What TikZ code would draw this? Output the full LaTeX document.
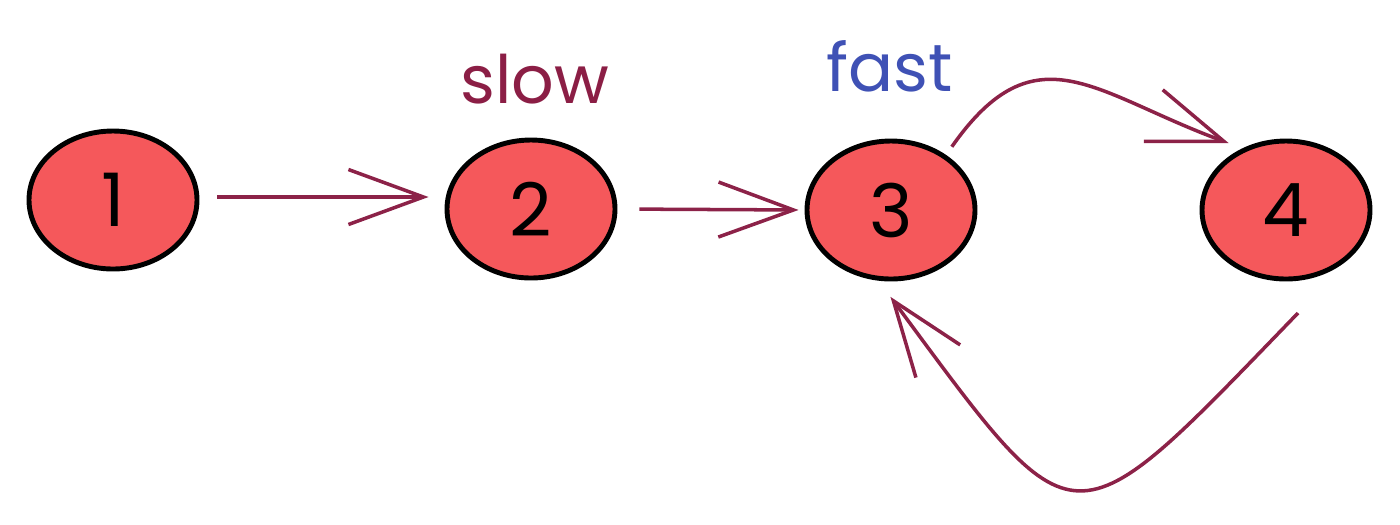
\documentclass[tikz,border=0pt]{standalone}
\usepackage{fontspec}
\setmainfont{Poppins}
\usetikzlibrary{positioning,arrows.meta,shapes.geometric}
\definecolor{nodered}{HTML}{F5585B}
\definecolor{linkred}{HTML}{8C2248}
\definecolor{slowred}{HTML}{8B1E45}
\definecolor{fastblue}{HTML}{3F51B5}

\begin{document}
\begin{tikzpicture}[
 num/.style={ellipse,draw=black,fill=nodered,line width=1.4pt,minimum width=1.68cm,minimum height=1.38cm,inner sep=0pt,font=\fontsize{21}{24}\selectfont},
 link/.style={-{Straight Barb[length=7.5mm,width=5.5mm,line width=1pt]},draw=linkred,line width=1pt},
 tag/.style={font=\fontsize{19}{22}\selectfont}]

\useasboundingbox (0,0) rectangle (14,5.24);

% List nodes
\node[num] (n1) at (1.13,3.24) {1};
\node[num] (n2) at (5.31,3.15) {2};
\node[num] (n3) at (8.91,3.14) {3};
\node[num] (n4) at (12.86,3.14) {4};

% Pointer labels
\node[tag,text=slowred] (slowlbl) at (5.35,4.45) {slow};
\node[tag,text=fastblue] (fastlbl) at (8.90,4.58) {fast};

% Next links
\draw[link,shorten <=1.8mm,shorten >=1.6mm] ([yshift=0.3mm]n1.east) -- ([yshift=0.3mm]n1.east -| n2.west);
\draw[link,shorten <=2.2mm,shorten >=0.6mm] (n2.east) -- (n3.west);
\draw[link,shorten <=1mm,shorten >=1.5mm] (n3.45) to[out=55,in=160,looseness=1.35] (n4.125);

% Cycle back to 3
\coordinate (loopstart) at (12.98,2.11);
\draw[link,shorten >=2mm] (loopstart) .. controls (10.67,-0.28) and (10.79,-0.28) .. (n3.-100);
\end{tikzpicture}
\end{document}
